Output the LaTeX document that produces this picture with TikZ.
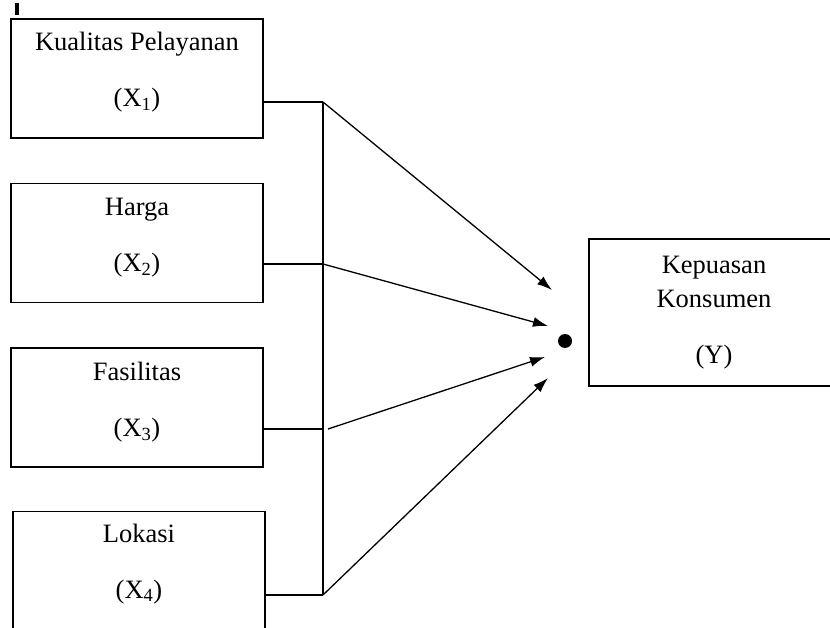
\documentclass[tikz,border=0pt]{standalone}
\usepackage{fontspec}
\setmainfont{Liberation Serif}
\usetikzlibrary{arrows.meta}
\begin{document}
\begin{tikzpicture}[
    x=1pt, y=-1pt,
    box/.style={rectangle, draw, line width=1.4pt, minimum width=252pt, minimum height=119pt, inner sep=0pt},
    ybox/.style={rectangle, draw, line width=1.4pt, minimum width=250pt, minimum height=147pt, inner sep=0pt},
    caption/.style={align=center, anchor=base, inner sep=0pt, font=\fontsize{26.5}{34}\selectfont},
    link/.style={line width=1.3pt},
    arrow/.style={-{Latex[length=15pt,width=10pt]}, line width=1.3pt}
]
\useasboundingbox (0,0) rectangle (830,628);

% mark at the top
\draw[line width=3.5pt] (17,3) -- (17,15);

% X side
\node[box] (x1) at (137,78.5) {};
\node[box] (x2) at (137,243) {};
\node[box] (x3) at (137,407.5) {};
\node[box] (x4) at (139,571) {};
\node[caption] (x1_txt) at (137,106.5) {Kualitas Pelayanan\\[22pt](X\textsubscript{1})};
\node[caption] (x2_txt) at (137,272) {Harga\\[22pt](X\textsubscript{2})};
\node[caption] (x3_txt) at (137,436.5) {Fasilitas\\[22pt](X\textsubscript{3})};
\node[caption] (x4_txt) at (139,598) {Lokasi\\[22pt](X\textsubscript{4})};

% Y side
\node[ybox] (y) at (714,312.5) {};
\node[caption] (y_txt) at (714,363) {Kepuasan\\Konsumen\\[22pt](Y)};
\node[circle, fill, inner sep=0pt, minimum size=14pt] (dot) at (565,341) {};

% bus
\coordinate (j1) at (323,102);
\coordinate (j2) at (323,264);
\coordinate (j3) at (323,429);
\coordinate (j4) at (323,595);
\draw[link] (x1.east |- j1) -- (j1);
\draw[link] (x2.east |- j2) -- (j2);
\draw[link] (x3.east |- j3) -- (j3);
\draw[link] (x4.east |- j4) -- (j4);
\draw[link] (j1) -- (j4);

% arrows
\coordinate (t1) at (552,290);
\coordinate (t2) at (548,326);
\coordinate (t3) at (545,357);
\coordinate (t4) at (548,378);
\draw[arrow] (j1) -- (t1);
\draw[arrow] (j2) -- (t2);
\draw[arrow] ([xshift=5pt]j3) -- (t3);
\draw[arrow] (j4) -- (t4);

\end{tikzpicture}
\end{document}
